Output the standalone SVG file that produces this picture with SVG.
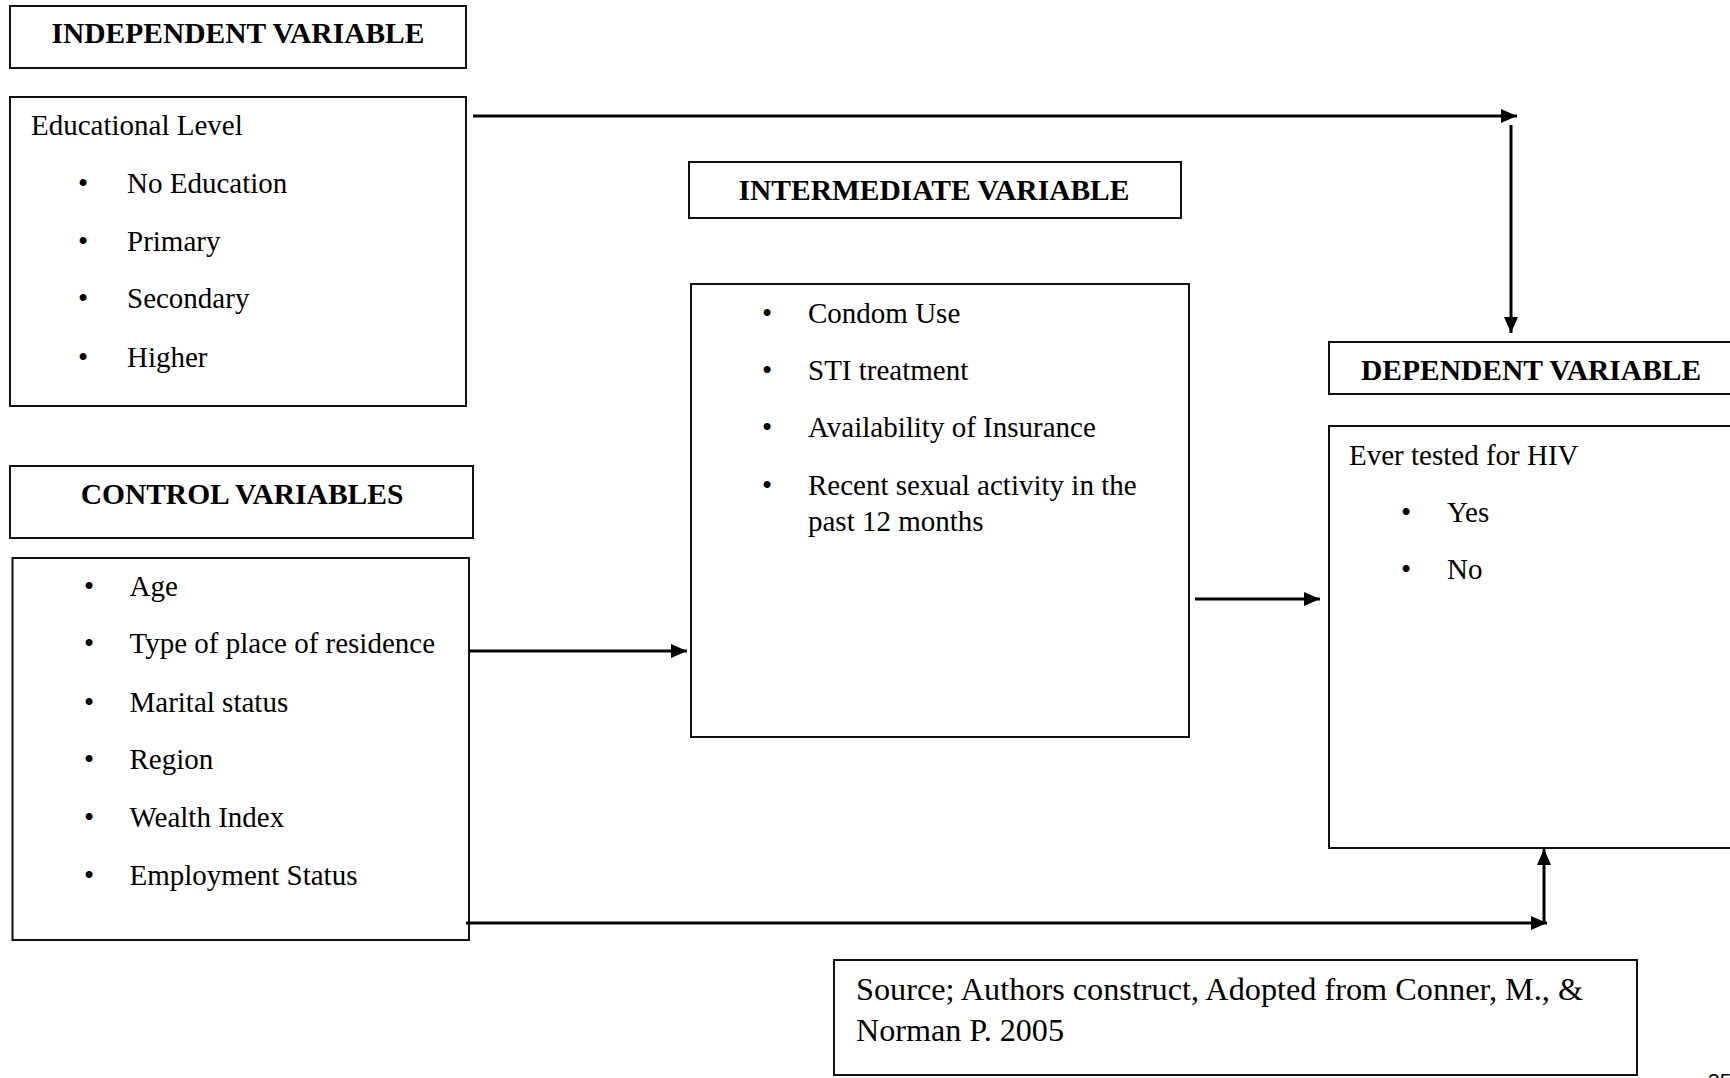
<svg xmlns="http://www.w3.org/2000/svg" width="1730" height="1078" viewBox="0 0 1730 1078">
<defs>
<style>
.box{fill:#fff;stroke:#111;stroke-width:2}
.t{font-family:"Liberation Serif","Times New Roman",serif;font-size:29px;fill:#000}
.b{font-weight:bold;font-size:29.5px}
.c{text-anchor:middle}
.s{font-size:31px}
.ln{stroke:#000;stroke-width:3;fill:none}
</style>
<marker id="ah" viewBox="0 0 16 14" refX="16" refY="7" markerWidth="16" markerHeight="14" markerUnits="userSpaceOnUse" orient="auto">
<path d="M0,0 L16,7 L0,14 Z" fill="#000"/>
</marker>
</defs>
<rect width="1730" height="1078" fill="#fff"/>

<g id="independent-header">
<rect class="box" x="10" y="6" width="456" height="62"/>
<text class="t b c" x="238" y="43">INDEPENDENT VARIABLE</text>
</g>

<g id="educational-level">
<rect class="box" x="10" y="97" width="456" height="309"/>
<text class="t" x="31" y="135">Educational Level</text>
<text class="t c" x="83" y="193">•</text><text class="t" x="127" y="193">No Education</text>
<text class="t c" x="83" y="251">•</text><text class="t" x="127" y="251">Primary</text>
<text class="t c" x="83" y="308">•</text><text class="t" x="127" y="308">Secondary</text>
<text class="t c" x="83" y="367">•</text><text class="t" x="127" y="367">Higher</text>
</g>

<g id="control-header">
<rect class="box" x="10" y="466" width="463" height="72"/>
<text class="t b c" x="242" y="504">CONTROL VARIABLES</text>
</g>

<g id="control-variables">
<rect class="box" x="12.5" y="558" width="456.5" height="382"/>
<text class="t c" x="89" y="596">•</text><text class="t" x="129.5" y="596">Age</text>
<text class="t c" x="89" y="653">•</text><text class="t" x="129.5" y="653">Type of place of residence</text>
<text class="t c" x="89" y="712">•</text><text class="t" x="129.5" y="712">Marital status</text>
<text class="t c" x="89" y="769">•</text><text class="t" x="129.5" y="769">Region</text>
<text class="t c" x="89" y="827">•</text><text class="t" x="129.5" y="827">Wealth Index</text>
<text class="t c" x="89" y="885">•</text><text class="t" x="129.5" y="885">Employment Status</text>
</g>

<g id="intermediate-header">
<rect class="box" x="689" y="162" width="492" height="56"/>
<text class="t b c" x="934" y="200">INTERMEDIATE VARIABLE</text>
</g>

<g id="intermediate-variables">
<rect class="box" x="691" y="284" width="498" height="453"/>
<text class="t c" x="767" y="323">•</text><text class="t" x="808" y="323">Condom Use</text>
<text class="t c" x="767" y="380">•</text><text class="t" x="808" y="380">STI treatment</text>
<text class="t c" x="767" y="437">•</text><text class="t" x="808" y="437">Availability of Insurance</text>
<text class="t c" x="767" y="495">•</text><text class="t" x="808" y="495">Recent sexual activity in the</text>
<text class="t" x="808" y="531">past 12 months</text>
</g>

<g id="dependent-header">
<rect class="box" x="1329" y="342" width="420" height="52"/>
<text class="t b" x="1361" y="380">DEPENDENT VARIABLE</text>
</g>

<g id="dependent-variable">
<rect class="box" x="1329" y="426" width="420" height="422"/>
<text class="t" x="1349" y="465">Ever tested for HIV</text>
<text class="t c" x="1406" y="522">•</text><text class="t" x="1447" y="522">Yes</text>
<text class="t c" x="1406" y="579">•</text><text class="t" x="1447" y="579">No</text>
</g>

<g id="source">
<rect class="box" x="834" y="960" width="803" height="115"/>
<text class="t s" x="856" y="1000" textLength="727" lengthAdjust="spacingAndGlyphs">Source; Authors construct, Adopted from Conner, M., &amp;</text>
<text class="t s" x="856" y="1041" textLength="208" lengthAdjust="spacingAndGlyphs">Norman P. 2005</text>
</g>

<g id="connectors">
<line class="ln" x1="473" y1="116" x2="1517" y2="116" marker-end="url(#ah)"/>
<line class="ln" x1="1511" y1="125" x2="1511" y2="333" marker-end="url(#ah)"/>
<line class="ln" x1="470" y1="651" x2="687" y2="651" marker-end="url(#ah)"/>
<line class="ln" x1="1195" y1="599" x2="1320" y2="599" marker-end="url(#ah)"/>
<line class="ln" x1="466" y1="923" x2="1547" y2="923" marker-end="url(#ah)"/>
<line class="ln" x1="1544" y1="923" x2="1544" y2="849" marker-end="url(#ah)"/>
</g>

<text x="1708" y="1088" font-family="Liberation Sans, Arial, sans-serif" font-size="21" fill="#000">35</text>
</svg>
